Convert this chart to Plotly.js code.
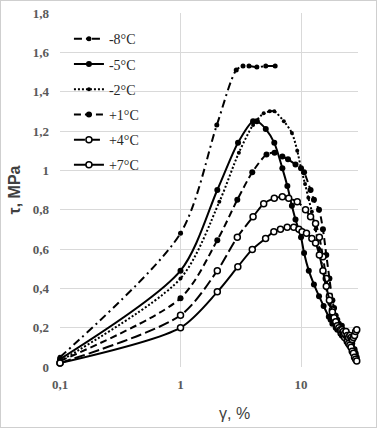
<!DOCTYPE html>
<html>
<head>
<meta charset="utf-8">
<script src="https://cdn.plot.ly/plotly-3.0.1.min.js"></script>
<style>
html,body{margin:0;padding:0;background:#fff;}
#wrap{position:relative;width:377px;height:428px;}
#chart{width:377px;height:428px;}
#frame{position:absolute;left:0;top:0;width:377px;height:428px;box-sizing:border-box;border:1px solid #cfcfcf;pointer-events:none;}
</style>
</head>
<body>
<div id="wrap"><div id="chart"></div><div id="frame"></div></div>
<script>
// Series names
const seriesNames = ['-8°C', '-5°C', '-2°C', '+1°C', '+4°C', '+7°C'];

// Strain γ (%) and shear stress τ (MPa) per series
const xM8 = [0.1, 1, 2.0, 2.9, 3.3, 3.7, 4.3, 5.1, 6.1];
const yM8 = [0.05, 0.68, 1.23, 1.51, 1.53, 1.53, 1.525, 1.53, 1.53];

const xM5 = [0.1, 1, 2.02, 3.0, 4.0, 4.3, 5.1, 6.0, 7.0, 7.7, 8.4, 9.0, 10, 10.6, 11.6, 12.8, 14.1, 15.4, 17, 17.6, 18.2, 18.8, 19.4, 20, 20.6, 21.2, 21.8, 22.4, 23, 23.6, 24.2, 24.8, 25.4, 26, 26.6, 27.2, 27.8, 28.4];
const yM5 = [0.04, 0.49, 0.90, 1.14, 1.25, 1.25, 1.21, 1.14, 1.01, 0.92, 0.82, 0.75, 0.66, 0.58, 0.49, 0.42, 0.36, 0.31, 0.255, 0.24, 0.22, 0.23, 0.20, 0.19, 0.20, 0.17, 0.16, 0.17, 0.15, 0.14, 0.15, 0.12, 0.11, 0.12, 0.10, 0.08, 0.09, 0.07];

const xM2 = [0.1, 1, 2.1, 3.05, 4.0, 4.9, 5.5, 6.0, 7.2, 8.4, 9.3, 10, 10.8, 11.5, 12.3, 13.2, 14.2, 15.2, 16.2, 17.2, 18.2, 18.8, 19.4, 20, 20.6, 21.2, 21.8, 22.4, 23, 23.6, 24.2, 24.8, 25.4, 26, 26.6, 27.2, 27.8, 28.4, 29];
const yM2 = [0.03, 0.45, 0.84, 1.09, 1.23, 1.29, 1.30, 1.30, 1.25, 1.19, 1.10, 1.01, 0.93, 0.86, 0.79, 0.70, 0.60, 0.49, 0.40, 0.32, 0.26, 0.24, 0.22, 0.21, 0.19, 0.20, 0.18, 0.16, 0.17, 0.15, 0.13, 0.14, 0.11, 0.10, 0.08, 0.09, 0.06, 0.05, 0.04];

const xP1 = [0.1, 1, 2.02, 2.96, 3.94, 5.17, 6.03, 7.0, 7.8, 9.0, 10, 10.6, 12, 12.8, 14.1, 15.2, 16.2, 17.2, 18.2, 18.8, 19.4, 20, 20.6, 21.2, 21.8, 22.4, 23, 23.6, 24.2, 24.8, 25.4, 26, 26.6, 27.2, 27.8, 28.4, 29];
const yP1 = [0.03, 0.35, 0.645, 0.85, 0.99, 1.08, 1.09, 1.07, 1.056, 1.03, 1.01, 0.99, 0.90, 0.85, 0.80, 0.70, 0.57, 0.45, 0.34, 0.30, 0.26, 0.24, 0.22, 0.20, 0.21, 0.18, 0.17, 0.16, 0.17, 0.14, 0.13, 0.11, 0.12, 0.09, 0.08, 0.06, 0.05];

const xP4 = [0.1, 1, 2.02, 2.96, 4.0, 4.9, 6.0, 7.0, 7.9, 9.3, 10.9, 12, 13.2, 14.2, 15.2, 16.2, 17.2, 18.2, 18.8, 19.4, 20, 20.6, 21.2, 21.8, 22.4, 23, 23.6, 24.2, 24.8, 25.4, 26, 26.6, 27.2, 27.8, 28.4, 29];
const yP4 = [0.02, 0.263, 0.49, 0.66, 0.764, 0.83, 0.858, 0.866, 0.858, 0.84, 0.80, 0.764, 0.73, 0.66, 0.56, 0.45, 0.36, 0.29, 0.26, 0.23, 0.21, 0.20, 0.19, 0.17, 0.16, 0.15, 0.16, 0.13, 0.12, 0.11, 0.10, 0.08, 0.07, 0.05, 0.04, 0.03];

const xP7 = [0.1, 1, 2.02, 2.99, 3.94, 5.08, 5.95, 6.75, 7.68, 8.7, 9.6, 10.2, 11.1, 12.3, 13.2, 14.2, 15.2, 16.2, 17.2, 18.2, 18.8, 19.4, 20, 20.6, 21.2, 21.8, 22.4, 23, 23.6, 24.2, 24.8, 25.4, 26, 26.6, 27.2, 27.8, 28.4, 29];
const yP7 = [0.02, 0.20, 0.382, 0.51, 0.598, 0.654, 0.688, 0.70, 0.71, 0.71, 0.70, 0.688, 0.68, 0.654, 0.63, 0.57, 0.49, 0.41, 0.34, 0.28, 0.25, 0.23, 0.21, 0.20, 0.19, 0.19, 0.18, 0.17, 0.18, 0.16, 0.15, 0.16, 0.15, 0.14, 0.15, 0.16, 0.18, 0.19];

// Axis ticks
const xTickVals = [0.1, 1, 10];
const xTickText = ['0,1', '1', '10'];
const yTickVals = [0, 0.2, 0.4, 0.6, 0.8, 1, 1.2, 1.4, 1.6, 1.8];
const yTickText = ['0', '0,2', '0,4', '0,6', '0,8', '1', '1,2', '1,4', '1,6', '1,8'];

const xs = [xM8, xM5, xM2, xP1, xP4, xP7];
const ys = [yM8, yM5, yM2, yP1, yP4, yP7];
const dashes = ['8px,4px,2px,4px', 'solid', '2px,2px', '7px,4px', '11px,4px', 'solid'];
const openMk = [false, false, false, false, true, true];
const mkSize = [5, 6, 4, 6, 6, 6];

const traces = seriesNames.map((n, i) => ({
  x: xs[i], y: ys[i], name: n, type: 'scatter', mode: 'lines+markers',
  legendgroup: 'g' + i,
  line: {color: '#000', width: 2, dash: dashes[i], shape: 'spline', smoothing: 0.8},
  marker: {symbol: 'circle', size: mkSize[i], color: openMk[i] ? '#fff' : '#000', line: {color: '#000', width: openMk[i] ? 1.5 : 0}},
  cliponaxis: false
}));

const tickFont = {family: 'Liberation Serif', size: 13, color: '#595959', weight: 'bold'};

const layout = {
  width: 377, height: 428,
  margin: {l: 60, r: 19, t: 13, b: 61},
  paper_bgcolor: '#fff', plot_bgcolor: '#fff',
  showlegend: true,
  legend: {x: 0.03, y: 0.971, xanchor: 'left', yanchor: 'top', bgcolor: 'rgba(0,0,0,0)',
           font: {family: 'Liberation Serif', size: 14, color: '#262626'}, tracegroupgap: 4},
  xaxis: {type: 'log', range: [-1, Math.log10(29.7)], tickvals: xTickVals, ticktext: xTickText,
          showgrid: true, gridcolor: '#d9d9d9', gridwidth: 1, zeroline: false,
          showline: false, ticks: '', tickfont: tickFont, ticklabelstandoff: 8},
  yaxis: {range: [0, 1.8], tickvals: yTickVals, ticktext: yTickText,
          showgrid: true, gridcolor: '#d9d9d9', gridwidth: 1, zeroline: false,
          showline: false, ticks: '', tickfont: tickFont, ticklabelstandoff: 10,
          title: {text: 'τ, MPa', font: {family: 'Liberation Sans', size: 16, color: '#404040', weight: 'bold'}, standoff: 8}},
  annotations: [{text: 'γ, %', xref: 'paper', yref: 'paper', x: (234 - 60) / 298, y: -0.13,
                 xanchor: 'center', yanchor: 'middle', showarrow: false,
                 font: {family: 'Liberation Sans', size: 16, color: '#404040'}}]
};

Plotly.newPlot('chart', traces, layout, {displayModeBar: false, staticPlot: true});
</script>
</body>
</html>
